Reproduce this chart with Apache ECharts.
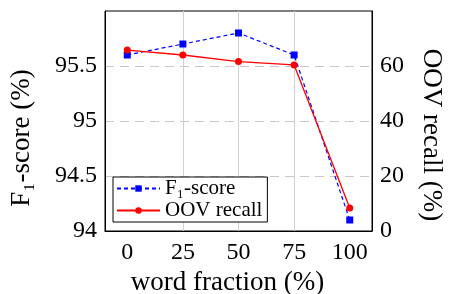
<!DOCTYPE html>
<html>
<head>
<meta charset="utf-8">
<script src="https://cdn.jsdelivr.net/npm/echarts@6/dist/echarts.min.js"></script>
<style>
  html, body { margin: 0; padding: 0; background: #fff; }
  #chart { width: 449px; height: 294px; }
</style>
</head>
<body>
<div id="chart"></div>
<script>
(function () {
    // word fraction (%)
    const fractions = [0, 25, 50, 75, 100];
    // F1-score (%), left axis
    const f1_score = [95.6, 95.7, 95.8, 95.6, 94.1];
    // OOV recall (%), right axis
    const oov_recall = [65.8, 64.0, 61.6, 60.4, 8.4];

    const font = 'Liberation Serif';
    let chart = echarts.init(document.getElementById('chart'));

    var option = {
        animation: false,
        backgroundColor: '#fff',
        grid: {
            left: 105, right: 77, top: 11, bottom: 63,
            outerBoundsMode: 'none',
            containLabel: false,
            show: true, borderColor: '#000', borderWidth: 1,
            backgroundColor: 'transparent'
        },
        legend: {
            left: 113, top: 177,
            orient: 'vertical',
            backgroundColor: '#fff',
            borderColor: '#000',
            borderWidth: 1,
            borderRadius: 0,
            padding: [1, 5, 1, 3],
            itemGap: 1,
            itemWidth: 43,
            itemHeight: 8,
            textStyle: { fontFamily: font, fontSize: 21, color: '#000' },
            data: ['F₁-score', 'OOV recall']
        },
        xAxis: {
            type: 'value',
            min: -10, max: 110,
            name: 'word fraction (%)',
            nameLocation: 'middle',
            nameGap: 38,
            nameTextStyle: { fontFamily: font, fontSize: 27, color: '#000', padding: [0, 22, 0, 0] },
            axisLine: { show: true, lineStyle: { color: '#000', width: 1 } },
            axisTick: { show: false, customValues: fractions },
            axisLabel: { customValues: fractions, fontFamily: font, fontSize: 24, color: '#000', margin: 10 },
            splitLine: { show: true, showMinLine: false, showMaxLine: false, lineStyle: { color: '#d0d0d0', width: 1 } }
        },
        yAxis: [{
            type: 'value',
            min: 94, max: 96, interval: 0.5,
            position: 'left',
            name: 'F₁-score (%)',
            nameLocation: 'middle',
            nameGap: 70,
            nameTextStyle: { fontFamily: font, fontSize: 27, color: '#000', padding: [0, 34, 0, 0] },
            axisLine: { show: true, onZero: false, lineStyle: { color: '#000', width: 1 } },
            axisTick: { show: false },
            axisLabel: { showMaxLabel: false, fontFamily: font, fontSize: 24, color: '#000', margin: 8 },
            splitLine: { show: true, showMinLine: false, showMaxLine: false, lineStyle: { color: '#c8c8c8', width: 1, type: [9, 6] } }
        }, {
            type: 'value',
            min: 0, max: 80, interval: 20,
            position: 'right',
            name: 'OOV recall (%)',
            nameLocation: 'middle',
            nameRotate: -90,
            nameGap: 46,
            nameTextStyle: { fontFamily: font, fontSize: 27, color: '#000', padding: [0, 0, 0, 28] },
            axisLine: { show: true, onZero: false, lineStyle: { color: '#000', width: 1 } },
            axisTick: { show: false },
            axisLabel: { showMaxLabel: false, fontFamily: font, fontSize: 24, color: '#000', margin: 8 },
            splitLine: { show: false }
        }],
        series: [{
            name: 'F₁-score',
            type: 'line',
            yAxisIndex: 0,
            symbol: 'rect',
            symbolSize: 7,
            color: '#0000ff',
            lineStyle: { color: '#0000ff', width: 1.2, type: [4, 3] },
            itemStyle: { color: '#0000ff' },
            data: fractions.map((x, i) => [x, f1_score[i]])
        }, {
            name: 'OOV recall',
            type: 'line',
            yAxisIndex: 1,
            symbol: 'circle',
            symbolSize: 7,
            color: '#ff0000',
            lineStyle: { color: '#ff0000', width: 1.3 },
            itemStyle: { color: '#ff0000' },
            data: fractions.map((x, i) => [x, oov_recall[i]])
        }]
    };

    chart.setOption(option);
})();
</script>
</body>
</html>
